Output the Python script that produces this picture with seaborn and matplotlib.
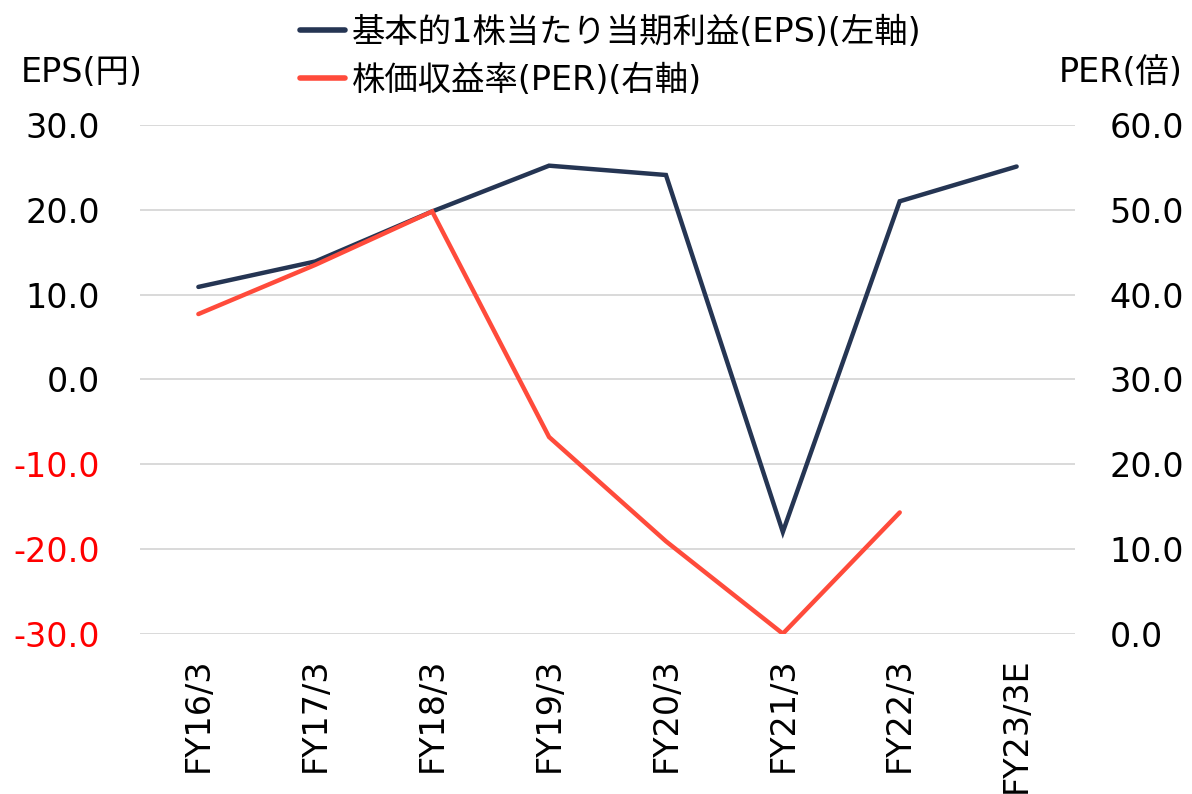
import matplotlib
matplotlib.use("Agg")
import matplotlib.pyplot as plt
from matplotlib.lines import Line2D
import seaborn as sns
import numpy as np
import pandas as pd

# Fiscal periods and series values
periods = ["FY16/3", "FY17/3", "FY18/3", "FY19/3", "FY20/3", "FY21/3", "FY22/3", "FY23/3E"]
eps = [10.9, 13.9, 19.8, 25.2, 24.1, -18.0, 21.0, 25.1]
per = [37.7, 43.5, 49.8, 23.2, 10.9, 0.0, 14.3, np.nan]

eps_label = "基本的1株当たり当期利益(EPS)(左軸)"
per_label = "株価収益率(PER)(右軸)"
left_ticks = [30, 20, 10, 0, -10, -20, -30]
right_ticks = [60, 50, 40, 30, 20, 10, 0]

sns.set_theme(style="white")
plt.rcParams["font.family"] = ["DejaVu Sans", "Noto Sans CJK JP"]
plt.rcParams["text.color"] = "black"
plt.rcParams["xtick.color"] = "black"
plt.rcParams["ytick.color"] = "black"

navy = "#253553"
red = "#FF4B3B"
grid_c = "#D9D9D9"
fs = 24

df = pd.DataFrame({"period": periods, "eps": eps, "per": per})
df["pos"] = np.arange(len(periods))

fig = plt.figure(figsize=(11.92, 7.94), dpi=100)
ax = fig.add_axes([0.1174, 0.2019, 0.9019 - 0.1174, 0.8426 - 0.2019])
ax2 = ax.twinx()

sns.lineplot(data=df, x="pos", y="eps", ax=ax, color=navy, linewidth=3.2,
             solid_capstyle="round", solid_joinstyle="miter", zorder=3)
sns.lineplot(data=df.dropna(), x="pos", y="per", ax=ax2, color=red, linewidth=3.2,
             solid_capstyle="round", solid_joinstyle="miter", zorder=3)

ax.set_xlim(-0.5, len(periods) - 0.5)
ax.set_ylim(-30, 30)
ax2.set_ylim(0, 60)

ax.set_yticks(left_ticks)
ax.set_yticklabels([f"{v:.1f}" for v in left_ticks])
for lbl, v in zip(ax.get_yticklabels(), left_ticks):
    lbl.set_color("#FF0000" if v < 0 else "black")
ax2.set_yticks(right_ticks)
ax2.set_yticklabels([f"{v:.1f}" for v in right_ticks])

ax.set_xticks(df["pos"])
ax.set_xticklabels(periods, rotation=90, va="top", ha="center")

for a in (ax, ax2):
    a.set_xlabel("")
    a.set_ylabel("")
    for s in a.spines.values():
        s.set_visible(False)
    a.tick_params(length=0, labelsize=fs)
ax.tick_params(axis="y", pad=29)
ax2.tick_params(axis="y", pad=25)
ax.tick_params(axis="x", pad=17)

ax.yaxis.grid(True, color=grid_c, linewidth=1.4)
ax.set_axisbelow(True)
ax2.set_zorder(ax.get_zorder() + 1)
ax2.patch.set_visible(False)

fig.text(0.017, 0.909, "EPS(円)", fontsize=fs, ha="left", va="center")
fig.text(0.992, 0.909, "PER(倍)", fontsize=fs, ha="right", va="center")

handles = [Line2D([0], [0], color=navy, linewidth=4),
           Line2D([0], [0], color=red, linewidth=4)]
fig.legend(handles, [eps_label, per_label], loc="upper left",
           bbox_to_anchor=(0.2517, 0.98), frameon=False, fontsize=fs,
           handlelength=1.36, handletextpad=0.2, labelspacing=0.45,
           borderaxespad=0, borderpad=0)

fig.savefig("out.png", dpi=100)
